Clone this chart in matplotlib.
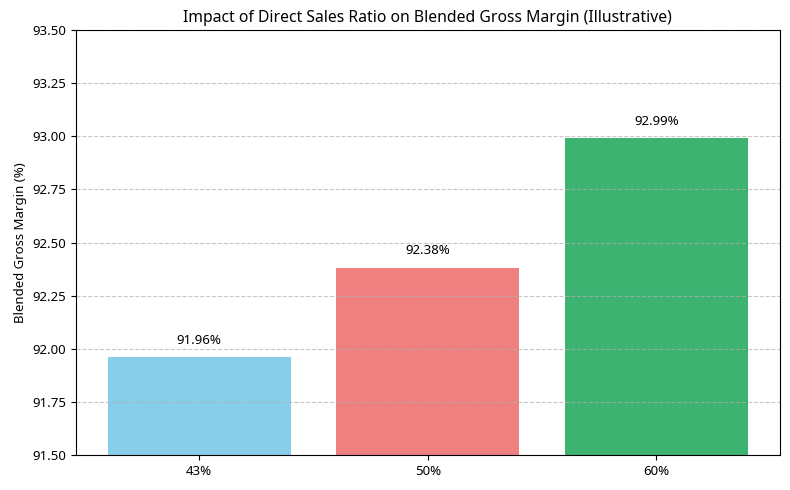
import matplotlib
matplotlib.use('Agg')
import matplotlib.pyplot as plt

plt.rcParams['font.family'] = ['Noto Sans', 'DejaVu Sans']

ratios = ['43%', '50%', '60%']
margins = [91.96, 92.38, 92.99]
colors = ['skyblue', 'lightcoral', 'mediumseagreen']

fig, ax = plt.subplots(figsize=(7.9, 4.9), dpi=100)
bars = ax.bar(ratios, margins, color=colors)

for b, v in zip(bars, margins):
    ax.text(b.get_x() + b.get_width() / 2, v + 0.05, f'{v:.2f}%',
            ha='center', va='bottom', fontsize=9.5)

ax.set_ylim(91.5, 93.5)
ax.set_ylabel('Blended Gross Margin (%)', fontsize=9.5)
ax.set_title('Impact of Direct Sales Ratio on Blended Gross Margin (Illustrative)', fontsize=11.3)
ax.tick_params(labelsize=9.5)
ax.yaxis.grid(True, linestyle='--', alpha=0.7)

fig.subplots_adjust(left=0.096, right=0.987, top=0.939, bottom=0.071)
plt.savefig('out.png', dpi=100)
